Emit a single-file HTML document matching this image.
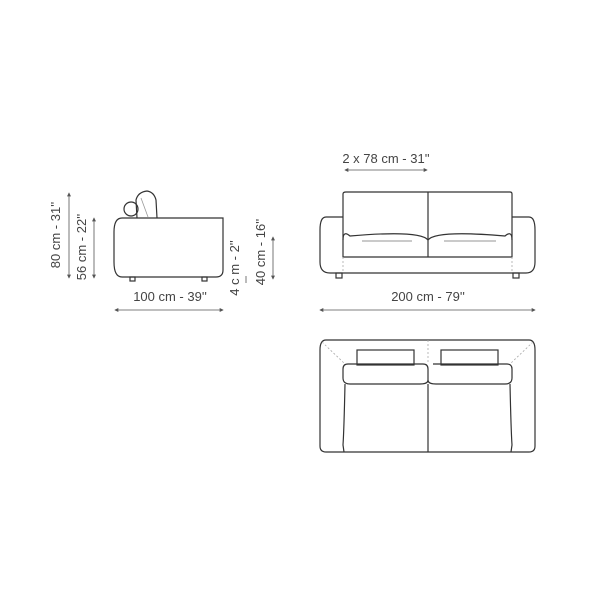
<!DOCTYPE html>
<html><head><style>body{margin:0;background:#fff}</style></head><body>
<svg width="600" height="600" viewBox="0 0 600 600" xmlns="http://www.w3.org/2000/svg" font-family="Liberation Sans, sans-serif" fill="none" stroke="#333" stroke-width="1.2">
<defs>
<marker id="a" viewBox="0 0 6 6" refX="5" refY="3" markerWidth="5" markerHeight="5" orient="auto-start-reverse"><path d="M0,0 L6,3 L0,6 Z" fill="#555" stroke="none"/></marker>
</defs>
<!-- side view -->
<path d="M122,218 H223 V270 Q223,277 216,277 H122 Q114,277 114,262 V232 Q114,218 122,218 Z"/>
<rect x="130" y="277" width="5" height="4"/><rect x="202" y="277" width="5" height="4"/>
<path d="M137,218 L136,200 Q138,192 147,191 Q154,192 156,200 L157,218"/>
<line x1="141" y1="198" x2="148" y2="217" stroke="#999" stroke-width="0.8"/>
<circle cx="131" cy="209" r="7"/>
<g stroke="#555" stroke-width="0.8" marker-start="url(#a)" marker-end="url(#a)">
<line x1="69" y1="193" x2="69" y2="278"/><line x1="94" y1="218" x2="94" y2="278"/>
<line x1="273" y1="237" x2="273" y2="279"/><line x1="115" y1="310" x2="223" y2="310"/>
<line x1="345" y1="170" x2="427" y2="170"/><line x1="320" y1="310" x2="535" y2="310"/>
</g>
<line x1="246" y1="276" x2="246" y2="283" stroke="#555" stroke-width="0.8"/>
<g fill="#444" stroke="none" font-size="13">
<text x="60" y="235" transform="rotate(-90 60 235)" text-anchor="middle">80 cm - 31''</text>
<text x="86" y="247" transform="rotate(-90 86 247)" text-anchor="middle">56 cm - 22''</text>
<text x="239" y="268" transform="rotate(-90 239 268)" text-anchor="middle">4 c m - 2''</text>
<text x="265" y="252" transform="rotate(-90 265 252)" text-anchor="middle">40 cm - 16''</text>
<text x="170" y="301" text-anchor="middle">100 cm - 39''</text>
<text x="386" y="163" text-anchor="middle">2 x 78 cm - 31''</text>
<text x="428" y="301" text-anchor="middle">200 cm - 79''</text>
</g>
<!-- front view -->
<path d="M343,217 H326 Q320,217 320,230 V262 Q320,273 330,273 H526 Q535,273 535,262 V230 Q535,217 529,217 H512"/>
<path d="M343,240 V194 Q343,192 346,192 H510 Q512,192 512,194 V240"/>
<line x1="428" y1="192" x2="428" y2="257"/>
<path d="M343,240 Q343,230 350,236 Q420,230 428,240 Q436,230 505,236 Q512,230 512,240 V257 H343 Z"/>
<line x1="362" y1="241" x2="412" y2="241" stroke="#aaa"/><line x1="444" y1="241" x2="496" y2="241" stroke="#aaa"/>
<line x1="343" y1="257" x2="343" y2="273" stroke="#aaa" stroke-dasharray="2,2" stroke-width="0.8"/>
<line x1="512" y1="257" x2="512" y2="273" stroke="#aaa" stroke-dasharray="2,2" stroke-width="0.8"/>
<rect x="336" y="273" width="6" height="5"/><rect x="513" y="273" width="6" height="5"/>
<!-- top view -->
<path d="M326,340 H529 Q535,340 535,350 V446 Q535,452 529,452 H326 Q320,452 320,446 V350 Q320,340 326,340 Z"/>
<rect x="357" y="350" width="57" height="15"/><rect x="441" y="350" width="57" height="15"/>
<path d="M348,364 H423 Q428,364 428,369 V380 Q428,384 420,384 H350 Q343,384 343,378 V369 Q343,364 348,364 Z"/>
<path d="M433,364 H507 Q512,364 512,369 V378 Q512,384 505,384 H436 Q428,384 428,380"/>
<line x1="428" y1="384" x2="428" y2="452"/>
<path d="M345,384 Q344,430 343,445 L344,452"/><path d="M510,384 Q511,430 512,445 L511,452"/>
<g stroke="#aaa" stroke-dasharray="2,2" stroke-width="0.8">
<line x1="322" y1="342" x2="345" y2="364"/><line x1="533" y1="342" x2="510" y2="364"/>
<line x1="428" y1="340" x2="428" y2="364"/>
</g>
</svg>
</body></html>
